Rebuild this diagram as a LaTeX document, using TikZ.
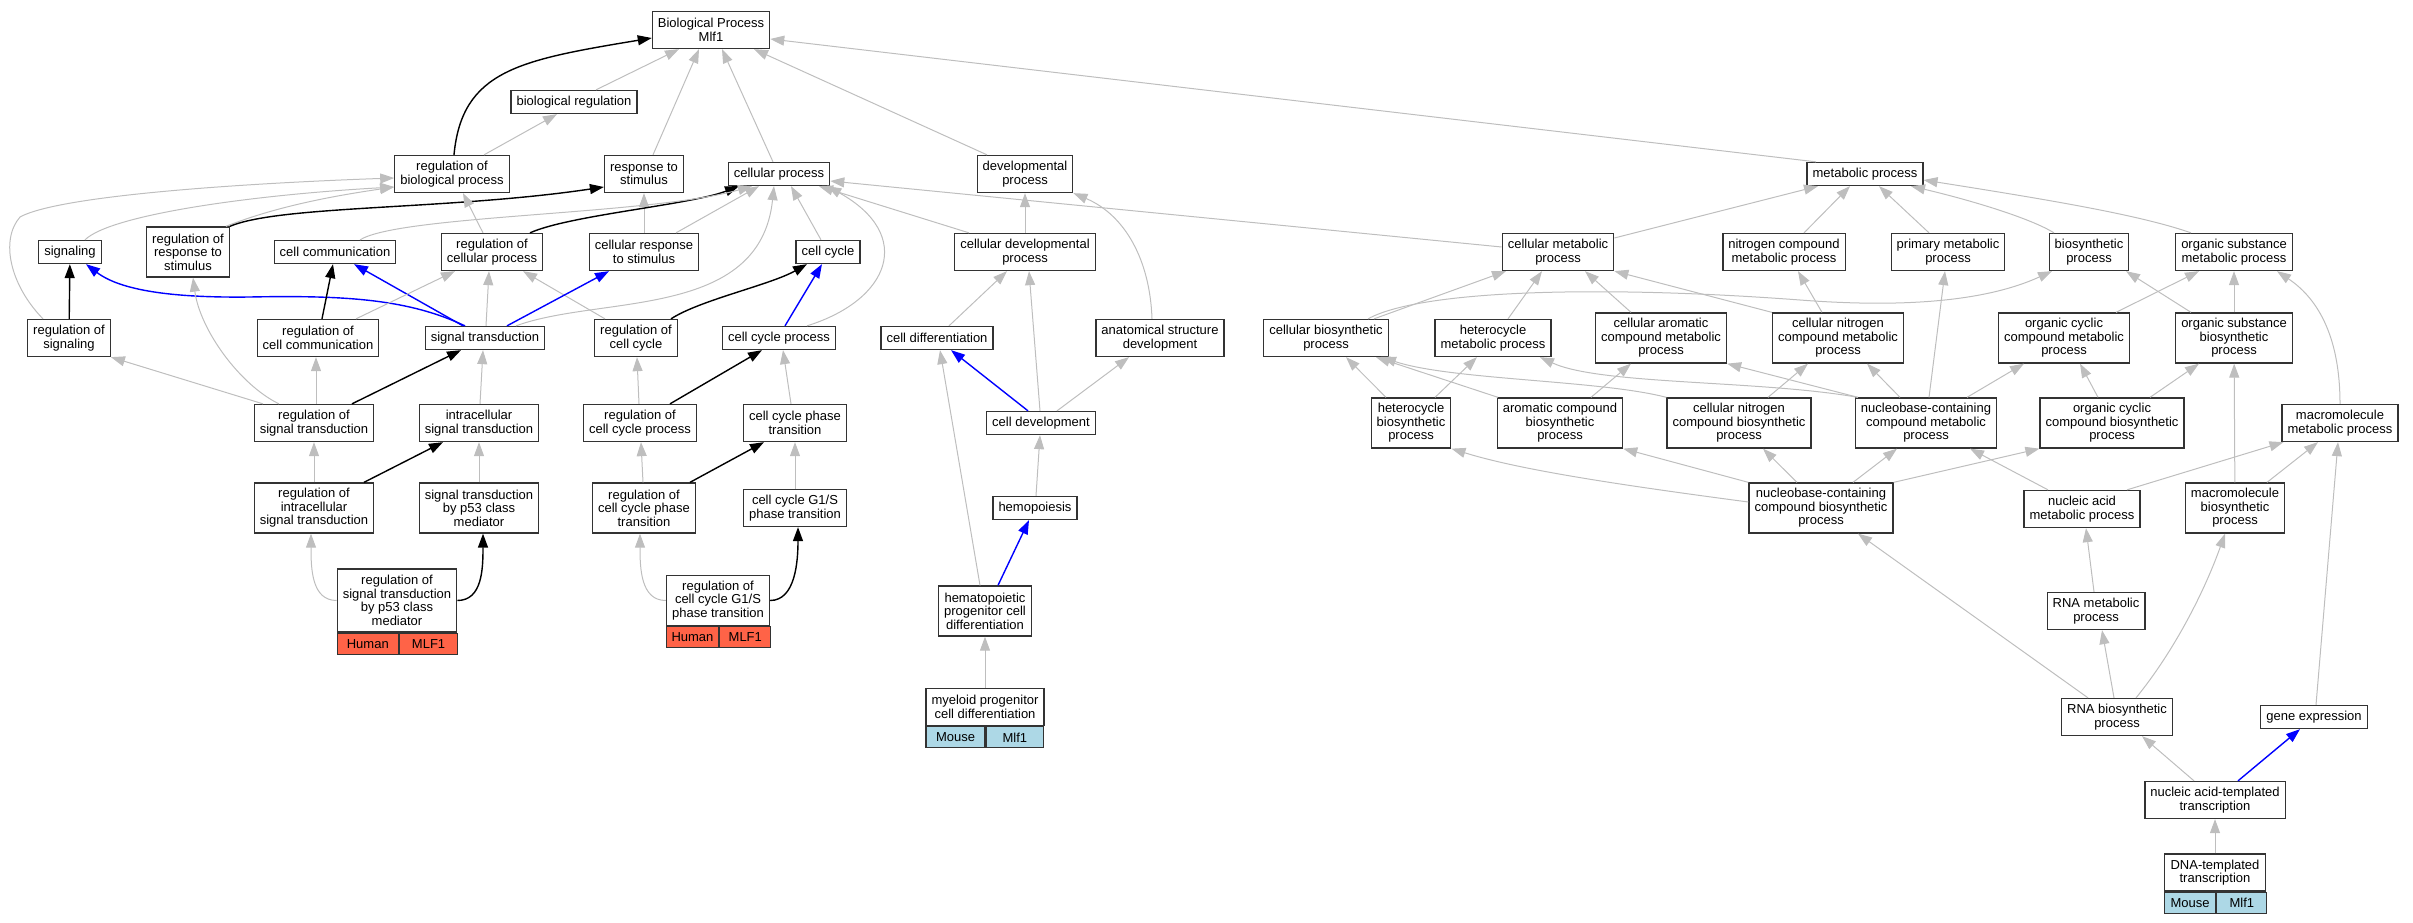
\documentclass[tikz,border=0pt]{standalone}
\usepackage{fontspec}
\setmainfont{Liberation Sans}
\usetikzlibrary{arrows.meta}
\definecolor{edgegray}{RGB}{190,190,190}
\definecolor{boxline}{RGB}{51,51,51}
\definecolor{humancell}{RGB}{255,99,71}
\definecolor{mousecell}{RGB}{173,216,230}

\begin{document}
\begin{tikzpicture}[x=1pt,y=-1pt,
  term/.style={draw=boxline,line width=1.3pt,fill=white,align=center,
    font=\fontsize{13}{13.5}\selectfont,inner xsep=5.5pt,inner ysep=2pt,minimum height=23pt},
  tall2/.style={minimum height=37pt},
  tall3/.style={minimum height=50pt},
  tall4/.style={minimum height=63pt},
  hcell/.style={draw=boxline,line width=1.3pt,fill=humancell,
    font=\fontsize{13}{13.5}\selectfont,inner sep=0pt,minimum height=21pt},
  mcell/.style={hcell,fill=mousecell},
  isa/.style={draw=edgegray,line width=1pt,-{Triangle[length=14pt,width=10pt]}},
  reg/.style={draw=black,line width=1.4pt,-{Triangle[length=14pt,width=10pt]}},
  link/.style={draw=blue,line width=1.4pt,-{Triangle[length=14pt,width=10pt]}}]

\useasboundingbox (0,0) rectangle (2413,923);

\node[term,tall2] (root) at (711,30) {Biological Process\\Mlf1};
\node[term] (breg) at (574,102) {biological regulation};

\node[term,tall2] (rbp) at (452,174) {regulation of\\biological process};
\node[term,tall2] (rts) at (644,174) {response to\\stimulus};
\node[term] (cp) at (779,174) {cellular process};
\node[term,tall2] (dp) at (1025,174) {developmental\\process};
\node[term] (mp) at (1865,174) {metabolic process};

\node[term] (signaling) at (70,252) {signaling};
\node[term,tall3] (rrts) at (188,252) {regulation of\\response to\\stimulus};
\node[term] (cc) at (335,252) {cell communication};
\node[term,tall2] (rcp) at (492,252) {regulation of\\cellular process};
\node[term,tall2] (crts) at (644,252) {cellular response\\to stimulus};
\node[term] (ccy) at (828,252) {cell cycle};
\node[term,tall2] (cdp) at (1025,252) {cellular developmental\\process};
\node[term,tall2] (cmp) at (1558,252) {cellular metabolic\\process};
\node[term,tall2] (ncmp) at (1784,252) {nitrogen compound\\metabolic process};
\node[term,tall2] (pmp) at (1948,252) {primary metabolic\\process};
\node[term,tall2] (bp) at (2089,252) {biosynthetic\\process};
\node[term,tall2] (osmp) at (2234,252) {organic substance\\metabolic process};

\node[term,tall2] (rsig) at (69,338) {regulation of\\signaling};
\node[term,tall2] (rcc) at (318,338) {regulation of\\cell communication};
\node[term] (st) at (485,338) {signal transduction};
\node[term,tall2] (rccy) at (636,338) {regulation of\\cell cycle};
\node[term] (ccp) at (779,338) {cell cycle process};
\node[term] (cdiff) at (937,338) {cell differentiation};
\node[term,tall2] (asd) at (1160,338) {anatomical structure\\development};
\node[term,tall2] (cbp) at (1326,338) {cellular biosynthetic\\process};
\node[term,tall2] (hmp) at (1493,338) {heterocycle\\metabolic process};
\node[term,tall3] (camp) at (1661,338) {cellular aromatic\\compound metabolic\\process};
\node[term,tall3] (cncmp) at (1838,338) {cellular nitrogen\\compound metabolic\\process};
\node[term,tall3] (occmp) at (2064,338) {organic cyclic\\compound metabolic\\process};
\node[term,tall3] (osbp) at (2234,338) {organic substance\\biosynthetic\\process};

\node[term,tall2] (rst) at (314,423) {regulation of\\signal transduction};
\node[term,tall2] (ist) at (479,423) {intracellular\\signal transduction};
\node[term,tall2] (rccp) at (640,423) {regulation of\\cell cycle process};
\node[term,tall2] (ccpt) at (795,423) {cell cycle phase\\transition};
\node[term] (cdev) at (1041,423) {cell development};
\node[term,tall3] (hbp) at (1411,423) {heterocycle\\biosynthetic\\process};
\node[term,tall3] (acbp) at (1560,423) {aromatic compound\\biosynthetic\\process};
\node[term,tall3] (cncbp) at (1739,423) {cellular nitrogen\\compound biosynthetic\\process};
\node[term,tall3] (nccmp) at (1926,423) {nucleobase-containing\\compound metabolic\\process};
\node[term,tall3] (occbp) at (2112,423) {organic cyclic\\compound biosynthetic\\process};
\node[term,tall2] (mmp) at (2340,423) {macromolecule\\metabolic process};

\node[term,tall3] (rist) at (314,508) {regulation of\\intracellular\\signal transduction};
\node[term,tall3] (stp53) at (479,508) {signal transduction\\by p53 class\\mediator};
\node[term,tall3] (rccpt) at (644,508) {regulation of\\cell cycle phase\\transition};
\node[term,tall2] (g1s) at (795,508) {cell cycle G1/S\\phase transition};
\node[term] (hemo) at (1035,508) {hemopoiesis};
\node[term,tall3] (ncbp) at (1821,508) {nucleobase-containing\\compound biosynthetic\\process};
\node[term,tall2] (namp) at (2082,509) {nucleic acid\\metabolic process};
\node[term,tall3] (mbp) at (2235,508) {macromolecule\\biosynthetic\\process};

\node[term,tall4,minimum width=119pt] (rstp53) at (397,600.5) {regulation of\\signal transduction\\by p53 class\\mediator};
\node[hcell,minimum width=61pt,anchor=north west] (rstp53h) at (rstp53.south west) {Human};
\node[hcell,minimum width=58pt,anchor=north west] (rstp53g) at (rstp53h.north east) {MLF1};
\node[term,tall3,minimum width=103pt] (rg1s) at (718,600.5) {regulation of\\cell cycle G1/S\\phase transition};
\node[hcell,minimum width=52pt,anchor=north west] (rg1sh) at (rg1s.south west) {Human};
\node[hcell,minimum width=51pt,anchor=north west] (rg1sg) at (rg1sh.north east) {MLF1};
\node[term,tall3] (hpcd) at (985,611) {hematopoietic\\progenitor cell\\differentiation};
\node[term,tall2] (rnamp) at (2096,611) {RNA metabolic\\process};

\node[term,tall2,minimum width=116pt] (mpcd) at (985,707) {myeloid progenitor\\cell differentiation};
\node[mcell,minimum width=59pt,anchor=north west] (mpcdm) at (mpcd.south west) {Mouse};
\node[mcell,minimum width=57pt,anchor=north west] (mpcdg) at (mpcdm.north east) {Mlf1};
\node[term,tall2] (rnabp) at (2117,717) {RNA biosynthetic\\process};
\node[term] (ge) at (2314,717) {gene expression};
\node[term,tall2] (natt) at (2215,800) {nucleic acid-templated\\transcription};
\node[term,tall2,minimum width=101pt] (dtt) at (2215,872.5) {DNA-templated\\transcription};
\node[mcell,minimum width=51pt,anchor=north west] (dttm) at (dtt.south west) {Mouse};
\node[mcell,minimum width=50pt,anchor=north west] (dttg) at (dttm.north east) {Mlf1};

\draw[reg] ([xshift=2pt]rbp.north) .. controls (462,70) and (520,60) .. ([yshift=-8pt]root.west);
\draw[isa] ([xshift=22pt]breg.north) -- ([xshift=-32pt]root.south);
\draw[isa] ([xshift=9pt]rts.north) -- ([xshift=-12pt]root.south);
\draw[isa] ([xshift=-6pt]cp.north) -- ([xshift=11pt]root.south);
\draw[isa] ([xshift=-38pt]dp.north) -- ([xshift=43pt]root.south);
\draw[isa] ([xshift=-49pt]mp.north) -- ([yshift=-9pt]root.east);
\draw[isa] ([xshift=32pt]rbp.north) -- ([xshift=-17pt]breg.south);

\draw[isa] ([xshift=-26pt]rsig.north) .. controls (10,285) and (0,240) .. (20,217) .. controls (60,195) and (250,183) .. ([yshift=-4pt]rbp.west);
\draw[isa] ([xshift=15pt]signaling.north) .. controls (110,215) and (250,195) .. ([yshift=-13pt]rbp.west);
\draw[isa] ([xshift=-4pt]rrts.north east) .. controls (280,205) and (340,195) .. ([yshift=-13pt]rbp.west);
\draw[reg] (rrts.north east) .. controls (280,205) and (450,210) .. ([yshift=-13pt]rts.west);
\draw[isa] ([xshift=-9pt]rcp.north) -- ([xshift=11pt]rbp.south);
\draw[isa] (crts) -- (rts);

\draw[reg] ([xshift=38pt]rcp.north) .. controls (570,215) and (690,205) .. ([xshift=-40pt]cp.south);
\draw[isa] ([xshift=25pt]cc.north) .. controls (400,215) and (650,215) .. ([xshift=-27pt]cp.south);
\draw[isa] ([xshift=32pt]crts.north) -- ([xshift=-20pt]cp.south);
\draw[isa] ([xshift=31pt]st.north) .. controls (600,295) and (760,320) .. ([xshift=-5pt]cp.south);
\draw[isa] ([xshift=-7pt]ccy.north) -- ([xshift=12pt]cp.south);
\draw[isa] ([xshift=-56pt]cdp.north) -- ([xshift=40pt]cp.south);
\draw[isa] ([xshift=28pt]ccp.north) .. controls (890,300) and (915,235) .. ([xshift=-3pt]cp.south east);
\draw[isa] ([yshift=5pt]cmp.west) -- ([yshift=-7pt]cp.east);
\draw[isa] (cdp) -- (dp);
\draw[isa] ([xshift=-8pt]asd.north) .. controls (1150,260) and (1125,215) .. (dp.south east);

\draw[isa] ([xshift=12pt]cdiff.north) -- ([xshift=-18pt]cdp.south);
\draw[isa] ([xshift=-1pt]cdev.north) -- ([xshift=4pt]cdp.south);
\draw[link] ([xshift=-13pt]cdev.north) -- ([xshift=14pt]cdiff.south);
\draw[isa] ([xshift=-5pt]hpcd.north) -- ([xshift=3pt]cdiff.south);
\draw[isa] ([xshift=16pt]cdev.north) -- ([xshift=-31pt]asd.south);
\draw[isa] ([xshift=1pt]hemo.north) -- ([xshift=-1pt]cdev.south);
\draw[link] ([xshift=13pt]hpcd.north) -- ([xshift=-6pt]hemo.south);
\draw[isa] (mpcd) -- (hpcd);

\draw[reg] ([xshift=35pt]rccy.north) .. controls (700,300) and (770,285) .. ([xshift=-21pt]ccy.south);
\draw[link] ([xshift=6pt]ccp.north) -- ([xshift=-6pt]ccy.south);
\draw[isa] ([xshift=-31pt]rccy.north) -- ([xshift=31pt]rcp.south);
\draw[isa] ([xshift=-1pt]rccp.north) -- ([xshift=1pt]rccy.south);
\draw[reg] ([xshift=30pt]rccp.north) -- ([xshift=-17pt]ccp.south);
\draw[isa] ([xshift=-4pt]ccpt.north) -- ([xshift=4pt]ccp.south);
\draw[isa] ([xshift=-1pt]rccpt.north) -- ([xshift=1pt]rccp.south);
\draw[reg] ([xshift=46pt]rccpt.north) -- ([xshift=-31pt]ccpt.south);
\draw[isa] (g1s) -- (ccpt);
\draw[isa] (rg1s.west) .. controls +(-25,0) and +(0,35) .. ([xshift=-4pt]rccpt.south);
\draw[reg] (rg1s.east) .. controls +(25,0) and +(0,35) .. ([xshift=3pt]g1s.south);

\draw[reg] (rsig) -- (signaling);
\draw[link] ([xshift=-20pt]st.north) .. controls (410,300) and (350,295) .. (250,297) .. controls (170,298) and (120,290) .. ([xshift=16pt]signaling.south);
\draw[reg] ([xshift=4pt]rcc.north) -- ([xshift=-2pt]cc.south);
\draw[link] ([xshift=-22pt]st.north) -- ([xshift=19pt]cc.south);
\draw[isa] ([xshift=38pt]rcc.north) -- ([xshift=-37pt]rcp.south);
\draw[isa] ([xshift=1pt]st.north) -- ([xshift=-3pt]rcp.south);
\draw[link] ([xshift=22pt]st.north) -- ([xshift=-35pt]crts.south);
\draw[reg] ([xshift=38pt]rst.north) -- ([xshift=-24pt]st.south);
\draw[isa] ([xshift=1pt]ist.north) -- ([xshift=-2pt]st.south);
\draw[isa] ([xshift=-51pt]rst.north) -- (rsig.south east);
\draw[isa] ([xshift=2pt]rst.north) -- ([xshift=-2pt]rcc.south);
\draw[isa] ([xshift=-35pt]rst.north) .. controls (240,385) and (200,330) .. ([xshift=5pt]rrts.south);
\draw[isa] (rist) -- (rst);
\draw[reg] ([xshift=50pt]rist.north) -- ([xshift=-36pt]ist.south);
\draw[isa] (stp53) -- (ist);
\draw[isa] (rstp53.west) .. controls +(-25,0) and +(0,35) .. ([xshift=-3pt]rist.south);
\draw[reg] (rstp53.east) .. controls +(25,0) and +(0,35) .. ([xshift=4pt]stp53.south);

\draw[isa] ([yshift=14pt]cmp.east) -- ([xshift=-47pt]mp.south);
\draw[isa] ([xshift=20pt]ncmp.north) -- ([xshift=-15pt]mp.south);
\draw[isa] ([xshift=-19pt]pmp.north) -- ([xshift=14pt]mp.south);
\draw[isa] ([xshift=-35pt]bp.north) .. controls (2030,218) and (1970,200) .. ([xshift=46pt]mp.south);
\draw[isa] ([xshift=-43pt]osmp.north) .. controls (2140,215) and (2050,200) .. ([yshift=-6pt]mp.east);

\draw[isa] ([xshift=48pt]cbp.north) -- ([xshift=-52pt]cmp.south);
\draw[isa] ([xshift=15pt]hmp.north) -- ([xshift=-16pt]cmp.south);
\draw[isa] ([xshift=-30pt]camp.north) -- ([xshift=27pt]cmp.south);
\draw[isa] (cncmp.north west) -- (cmp.south east);
\draw[isa] ([xshift=42pt]cbp.north) .. controls (1420,290) and (1600,285) .. (1800,300) .. controls (1930,310) and (2000,295) .. ([xshift=-37pt]bp.south);
\draw[isa] ([xshift=-43pt]osbp.north) -- ([xshift=37pt]bp.south);
\draw[isa] ([xshift=52pt]occmp.north) -- ([xshift=-35pt]osmp.south);
\draw[isa] (osbp) -- (osmp);
\draw[isa] (mmp.north) .. controls (2340,340) and (2320,300) .. ([xshift=43pt]osmp.south);
\draw[isa] ([xshift=-16pt]cncmp.north) -- ([xshift=14pt]ncmp.south);
\draw[isa] ([xshift=3pt]nccmp.north) -- ([xshift=-3pt]pmp.south);

\draw[isa] ([xshift=24pt]hbp.north) -- ([xshift=-16pt]hmp.south);
\draw[isa] ([xshift=-68pt]nccmp.north) .. controls (1760,380) and (1600,385) .. ([xshift=47pt]hmp.south);
\draw[isa] ([xshift=-25pt]hbp.north) -- ([xshift=20pt]cbp.south);
\draw[isa] ([xshift=-62pt]acbp.north) -- ([xshift=50pt]cbp.south);
\draw[isa] (cncbp.north west) .. controls (1600,380) and (1450,380) .. ([xshift=56pt]cbp.south);
\draw[isa] ([xshift=31pt]acbp.north) -- ([xshift=-30pt]camp.south);
\draw[isa] ([xshift=-68pt]nccmp.north) -- (camp.south east);
\draw[isa] ([xshift=29pt]cncbp.north) -- ([xshift=-30pt]cncmp.south);
\draw[isa] ([xshift=-26pt]nccmp.north) -- ([xshift=29pt]cncmp.south);
\draw[isa] ([xshift=41pt]nccmp.north) -- ([xshift=-40pt]occmp.south);
\draw[isa] ([xshift=-14pt]occbp.north) -- ([xshift=16pt]occmp.south);
\draw[isa] ([xshift=38pt]occbp.north) -- ([xshift=-35pt]osbp.south);
\draw[isa] (mbp) -- (osbp);

\draw[isa] ([xshift=45pt]namp.north) -- ([xshift=2pt]mmp.south west);
\draw[isa] ([xshift=32pt]mbp.north) -- ([xshift=-22pt]mmp.south);
\draw[isa] ([xshift=2pt]ge.north) -- ([xshift=-2pt]mmp.south);
\draw[isa] ([xshift=32pt]ncbp.north) -- ([xshift=-29pt]nccmp.south);
\draw[isa] ([xshift=-34pt]namp.north) -- ([xshift=44pt]nccmp.south);
\draw[isa] ([xshift=-24pt]ncbp.north) -- ([xshift=24pt]cncbp.south);
\draw[isa] (ncbp.north west) -- (acbp.south east);
\draw[isa] ([yshift=6pt]ncbp.west) .. controls (1620,485) and (1520,470) .. (hbp.south east);
\draw[isa] (ncbp.north east) -- (occbp.south west);

\draw[isa] ([xshift=-29pt]rnabp.north) -- ([xshift=37pt]ncbp.south);
\draw[isa] ([xshift=-2pt]rnamp.north) -- ([xshift=4pt]namp.south);
\draw[isa] ([xshift=-3pt]rnabp.north) -- ([xshift=6pt]rnamp.south);
\draw[isa] ([xshift=19pt]rnabp.north) .. controls (2175,650) and (2205,590) .. ([xshift=-10pt]mbp.south);
\draw[isa] ([xshift=-21pt]natt.north) -- ([xshift=25pt]rnabp.south);
\draw[link] ([xshift=23pt]natt.north) -- ([xshift=-14pt]ge.south);
\draw[isa] (dtt) -- (natt);

\end{tikzpicture}
\end{document}
